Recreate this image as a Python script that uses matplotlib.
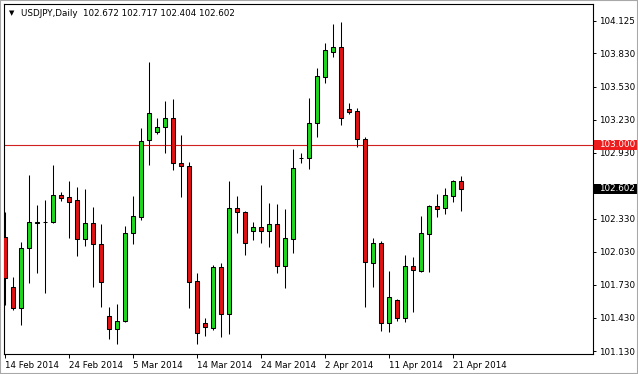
import matplotlib
matplotlib.use('Agg')
import matplotlib.pyplot as plt
from matplotlib.patches import Rectangle
from matplotlib.transforms import blended_transform_factory

# USDJPY daily candles (incl. Sunday bars)
opens = [102.165, 101.711, 101.521, 102.065, 102.292, 102.301, 102.301, 102.546,
         102.528, 102.501, 102.147, 102.292, 102.101, 101.448, 101.330, 101.403,
         102.201, 102.346, 103.045, 103.118, 103.163, 103.245, 102.836, 102.809,
         101.766, 101.385, 101.339, 101.893, 101.466, 102.428, 102.392, 102.219,
         102.256, 102.219, 102.283, 101.902, 102.147, 102.882, 102.882, 103.199,
         103.617, 103.844, 103.889, 103.326, 103.308, 103.054, 101.929, 102.111,
         101.385, 101.593, 101.430, 101.902, 101.856, 102.192, 102.446, 102.428,
         102.537, 102.672]
highs = [102.392, 101.802, 102.120, 102.728, 102.455, 102.501, 102.818, 102.573,
         102.673, 102.619, 102.601, 102.437, 102.283, 101.530, 101.557, 102.265,
         102.537, 103.154, 103.753, 103.245, 103.399, 103.417, 103.091, 102.846,
         101.838, 101.430, 101.911, 101.929, 102.673, 102.537, 102.401, 102.301,
         102.637, 102.474, 102.464, 102.419, 102.964, 102.927, 103.426, 103.699,
         103.925, 104.098, 104.116, 103.381, 103.336, 103.072, 102.156, 102.129,
         101.856, 101.602, 102.002, 101.984, 102.356, 102.455, 102.555, 102.610,
         102.680, 102.717]
lows = [101.548, 101.503, 101.367, 101.748, 101.838, 101.657, 102.292, 102.492,
        102.156, 101.993, 102.083, 101.711, 101.530, 101.239, 101.194, 101.394,
        102.101, 102.319, 102.818, 103.100, 102.927, 102.773, 102.528, 101.521,
        101.194, 101.267, 101.321, 101.258, 101.285, 102.201, 102.002, 102.138,
        102.111, 102.074, 101.838, 101.702, 102.020, 102.836, 102.782, 103.072,
        103.562, 103.798, 103.181, 103.281, 102.982, 101.530, 101.711, 101.312,
        101.303, 101.403, 101.394, 101.484, 101.847, 101.847, 102.346, 102.374,
        102.483, 102.404]
closes = [101.793, 101.521, 102.065, 102.301, 102.297, 102.305, 102.546, 102.519,
          102.483, 102.147, 102.292, 102.101, 101.757, 101.330, 101.403, 102.201,
          102.356, 103.036, 103.290, 103.163, 103.245, 102.836, 102.809, 101.757,
          101.294, 101.348, 101.893, 101.466, 102.428, 102.392, 102.111, 102.256,
          102.219, 102.283, 101.902, 102.156, 102.791, 102.886, 103.199, 103.626,
          103.862, 103.889, 103.245, 103.299, 103.054, 101.938, 102.111, 101.385,
          101.621, 101.430, 101.902, 101.866, 102.201, 102.446, 102.419, 102.546,
          102.673, 102.602]

date_labels = ['14 Feb 2014', '24 Feb 2014', '5 Mar 2014', '14 Mar 2014',
               '24 Mar 2014', '2 Apr 2014', '11 Apr 2014', '21 Apr 2014']
price_ticks = [104.125, 103.830, 103.530, 103.230, 102.930,
               102.330, 102.030, 101.730, 101.430, 101.130]
level = 103.000

UP = '#1ed81e'
DOWN = '#e01212'
W, H = 638, 374

fig = plt.figure(figsize=(W / 100, H / 100), dpi=100)
fig.patch.set_facecolor('white')
ax = fig.add_axes([4 / W, 20 / H, 589 / W, 350 / H])

n = len(opens)
xs = list(range(n))

# wicks
ax.vlines(xs, lows, highs, color='black', linewidth=0.75, zorder=2)

# bodies
bottoms = [min(o, c) for o, c in zip(opens, closes)]
heights = [abs(c - o) for o, c in zip(opens, closes)]
colors = [UP if c >= o else DOWN for o, c in zip(opens, closes)]
ax.bar(xs, heights, bottom=bottoms, width=0.55, color=colors,
       edgecolor='black', linewidth=0.75, zorder=3)

# resistance level
ax.axhline(level, color='#d02020', linewidth=0.8, zorder=1)

ax.set_xlim(-0.125, 73.5)
ax.set_ylim(101.103, 104.279)

ax.yaxis.tick_right()
ax.set_yticks(price_ticks)
ax.set_yticklabels([f'{p:.3f}' for p in price_ticks])
ax.tick_params(axis='y', direction='out', length=2.5, width=0.7, pad=2,
               labelsize=6.3, colors='black')

ax.set_xticks(xs[::8])
ax.set_xticklabels(date_labels, ha='left')
ax.tick_params(axis='x', direction='out', length=3, width=0.7, pad=2,
               labelsize=6.3)

for sp in ax.spines.values():
    sp.set_color('black')
    sp.set_linewidth(0.8)

# price labels on the right
trans = blended_transform_factory(ax.transAxes, ax.transData)


def price_box(price, fc):
    ax.add_patch(Rectangle((1 + 1 / 589, price - 5 / 110), 44 / 589, 10 / 110,
                           transform=trans, facecolor=fc, edgecolor='none',
                           clip_on=False, zorder=5))
    ax.text(1 + 6 / 589, price, f'{price:.3f}', transform=trans, color='white',
            fontsize=6.3, va='center', ha='left', zorder=6, clip_on=False)


price_box(level, '#ee1c1c')
price_box(closes[-1], 'black')

# header
fig.text(9 / W, 1 - 13 / H, '\u25bc', fontsize=5, va='center', ha='left')
fig.text(21 / W, 1 - 13 / H,
         f'USDJPY,Daily  {opens[-1]:.3f} {highs[-1]:.3f} {lows[-1]:.3f} {closes[-1]:.3f}',
         fontsize=6.3, va='center', ha='left')

# window frame
fig.patches.append(Rectangle((0, 0), 1, 1, transform=fig.transFigure, fill=False,
                             edgecolor='#a8a8a8', linewidth=1.5))

fig.savefig('out.png', dpi=100, facecolor='white')
